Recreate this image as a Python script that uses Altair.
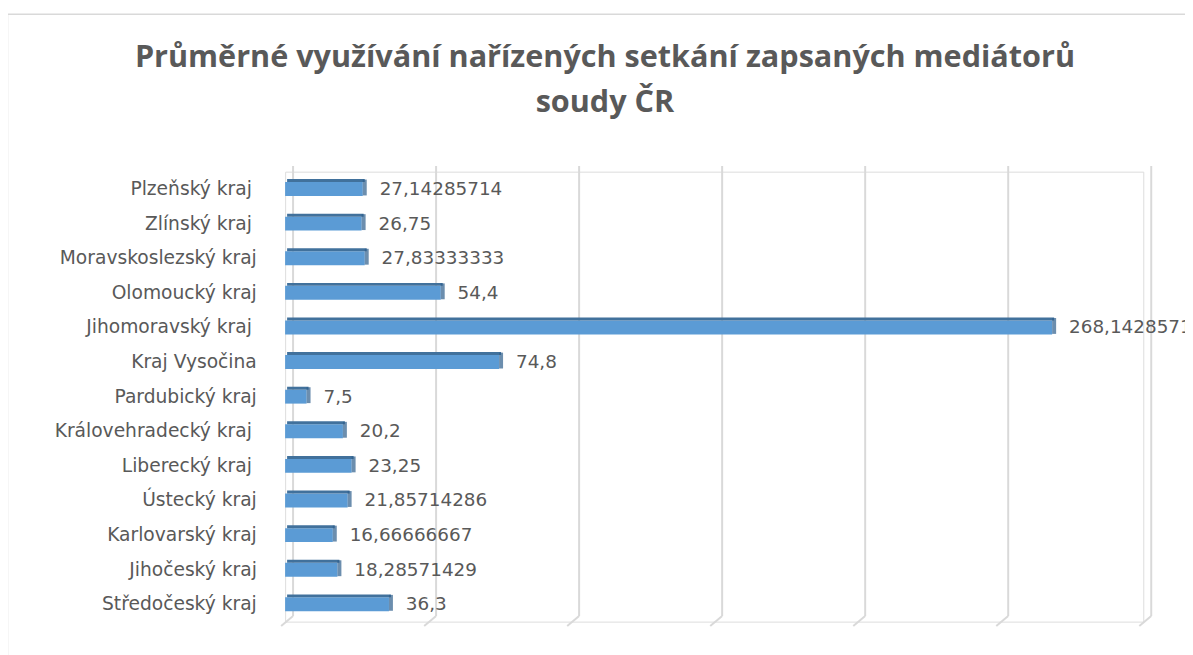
import altair as alt
import pandas as pd

# ---- data (some names carry a trailing space) ----
regions = [
    "Plzeňský kraj ",
    "Zlínský kraj ",
    "Moravskoslezský kraj",
    "Olomoucký kraj",
    "Jihomoravský kraj ",
    "Kraj Vysočina",
    "Pardubický kraj",
    "Královehradecký kraj ",
    "Liberecký kraj ",
    "Ústecký kraj",
    "Karlovarský kraj",
    "Jihočeský kraj",
    "Středočeský kraj",
]
values = [27.14285714, 26.75, 27.83333333, 54.4, 268.1428571, 74.8, 7.5,
          20.2, 23.25, 21.85714286, 16.66666667, 18.28571429, 36.3]
value_labels = ["27,14285714", "26,75", "27,83333333", "54,4", "268,1428571",
                "74,8", "7,5", "20,2", "23,25", "21,85714286", "16,66666667",
                "18,28571429", "36,3"]
grid_values = [0, 50, 100, 150, 200, 250, 300]
title_lines = ["Průměrné využívání nařízených setkání zapsaných mediátorů", "soudy ČR"]

df = pd.DataFrame({"region": regions, "value": values, "label": value_labels})
grid_df = pd.DataFrame({"g": grid_values})

TITLE_FONT = "Open Sans"
LABEL_FONT = "DejaVu Sans"
W, H = 864, 453
TEXT_COL = "#595959"
GRID_COL = "#D9D9D9"

xscale = alt.Scale(domain=[0, 300], nice=False, zero=True)
yenc = alt.Y("region:N", sort=regions,
             scale=alt.Scale(paddingInner=0, paddingOuter=0),
             axis=alt.Axis(title=None, domain=False, ticks=False, grid=False,
                           labelPadding={"condition": {"test": "test(/ $/, datum.value)", "value": 34},
                                         "value": 29},
                           labelLimit=400,
                           labelFontSize=18.8, labelFont=LABEL_FONT,
                           labelColor=TEXT_COL))

base = alt.Chart(df)

# frame of the chart area
frame = alt.Chart(alt.Data(values=[{}])).mark_rect(
    fill="transparent", stroke=GRID_COL, strokeWidth=1.5
).encode(x=alt.value(-279.5), x2=alt.value(1000), y=alt.value(-158.6), y2=alt.value(600))

grid = alt.Chart(grid_df).mark_rule(color=GRID_COL, strokeWidth=2, xOffset=8).encode(
    x=alt.X("g:Q", scale=xscale, axis=None),
    y=alt.value(-5.6), y2=alt.value(447.4))
stubs = alt.Chart(grid_df).mark_rule(color=GRID_COL, strokeWidth=2, xOffset=8, x2Offset=-4).encode(
    x=alt.X("g:Q", scale=xscale, axis=None), x2="g:Q",
    y=alt.value(447.4), y2=alt.value(457.4))

face = base.mark_bar(size=14, color="#5B9BD5").encode(
    x=alt.X("value:Q", scale=xscale, axis=None), y=yenc)
top = base.mark_bar(size=3, color="#41719C", yOffset=-8.5, xOffset=2).encode(
    x=alt.X("value:Q", scale=xscale, axis=None), y=yenc)
cap = base.mark_tick(thickness=4, size=16, color="#2E5E8C", xOffset=2, yOffset=-1.5).encode(
    x=alt.X("value:Q", scale=xscale, axis=None), y=yenc)
labels = base.mark_text(align="left", baseline="middle", dx=17, fontSize=18.5,
                        font=LABEL_FONT, color=TEXT_COL).encode(
    x=alt.X("value:Q", scale=xscale, axis=None), y=yenc, text="label:N")

title = alt.Chart(alt.Data(values=[{}])).mark_text(
    text=title_lines, font=TITLE_FONT, fontSize=30.8, fontWeight="bold", color=TEXT_COL,
    align="center", baseline="alphabetic", lineHeight=45
).encode(x=alt.value(322), y=alt.value(-105))

chart = alt.layer(frame, grid, stubs, face, top, cap, labels, title).properties(
    width=W, height=H,
    autosize=alt.AutoSizeParams(type="none"),
    padding={"left": 279, "top": 162.6, "right": 42, "bottom": 31.4},
).configure_view(stroke=None).configure(background="white")

chart.save("out.html", embed_options={"renderer": "svg", "actions": False})
